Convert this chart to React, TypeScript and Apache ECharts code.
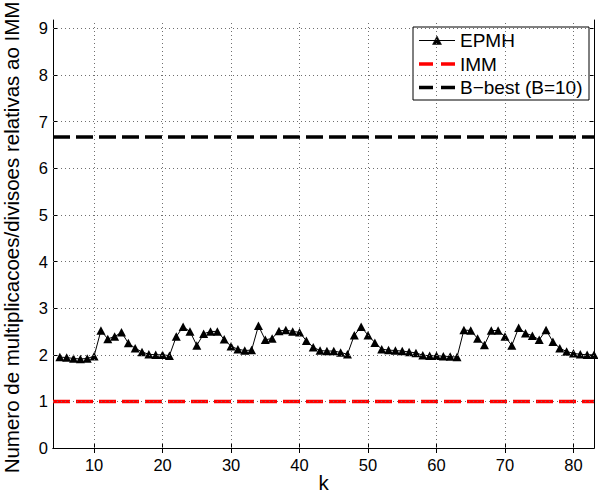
import React, { useEffect, useRef } from 'react';
import * as echarts from 'echarts';

// EPMH cost per step k, starting at k = 5
const kStart = 5;
const epmh = [
  1.95, 1.94, 1.92, 1.91, 1.92, 1.97, 2.52, 2.34, 2.39, 2.48,
  2.25, 2.14, 2.06, 2.01, 2.0, 2.0, 1.98, 2.39, 2.6, 2.5,
  2.2, 2.45, 2.5, 2.5, 2.33, 2.18, 2.12, 2.09, 2.1, 2.62,
  2.32, 2.35, 2.51, 2.53, 2.5, 2.48, 2.3, 2.16, 2.09, 2.08,
  2.08, 2.05, 2.01, 2.42, 2.6, 2.42, 2.26, 2.12, 2.1, 2.09,
  2.08, 2.06, 2.04, 1.99, 1.98, 1.98, 1.97, 1.96, 1.95, 2.53,
  2.52, 2.35, 2.21, 2.52, 2.52, 2.39, 2.2, 2.58, 2.46, 2.41,
  2.32, 2.53, 2.28, 2.14, 2.07, 2.03, 2.01, 2.0, 2.0,
];
const immLevel = 1;
const bBestLevel = 6.67;

const xRange = [4, 83];
const yRange = [0, 9.18];
const xTicks = [10, 20, 30, 40, 50, 60, 70, 80];
const yTicks = [0, 1, 2, 3, 4, 5, 6, 7, 8, 9];

const seriesNames = ['EPMH', 'IMM', 'B\u2212best (B=10)'];
const seriesColors = ['#000000', '#ff0000', '#000000'];

const FONT = '"Liberation Sans", Arial, Helvetica, sans-serif';
const TICK_FONT = 16.5;
const LABEL_FONT = 20.5;
const LEGEND_FONT = 19;

// Boxed legend in the upper-right corner of the axes
function buildLegend() {
  const box = { x: 413, y: 27, w: 176, h: 73 };
  const rowY = [40.5, 64, 87.5];
  const lineX0 = 419;
  const lineX1 = 455;
  const textX = 460;
  const items: any[] = [
    {
      type: 'rect',
      shape: { x: box.x, y: box.y, width: box.w, height: box.h },
      style: { fill: '#fff', stroke: '#000', lineWidth: 1 },
    },
  ];
  seriesNames.forEach((name, i) => {
    const y = rowY[i];
    if (i === 0) {
      items.push({
        type: 'line',
        shape: { x1: lineX0, y1: y, x2: lineX1, y2: y },
        style: { stroke: seriesColors[i], lineWidth: 1 },
      });
      const cx = (lineX0 + lineX1) / 2;
      items.push({
        type: 'polygon',
        shape: { points: [[cx, y - 4.5], [cx + 4.5, y + 4], [cx - 4.5, y + 4]] },
        style: { fill: '#000', stroke: '#000', lineWidth: 0.5 },
      });
    } else {
      items.push({
        type: 'line',
        shape: { x1: lineX0, y1: y, x2: lineX1, y2: y },
        style: { stroke: seriesColors[i], lineWidth: 3.5, lineDash: [14, 8] },
      });
    }
    items.push({
      type: 'text',
      x: textX,
      y,
      style: {
        text: name,
        fontFamily: FONT,
        fontSize: LEGEND_FONT,
        fill: '#000',
        verticalAlign: 'middle',
        align: 'left',
      },
    });
  });
  return { type: 'group', z: 100, children: items };
}

export default function App() {
  const ref = useRef<HTMLDivElement>(null);

  useEffect(() => {
    document.body.style.margin = '0';
    if (!ref.current) return;
    const chart = echarts.init(ref.current, null, { renderer: 'svg' });

    const epmhData = epmh.map((v, i) => [kStart + i, v]);
    const gridLine = { color: '#6f6f6f', width: 1, type: [1, 3] as number[] };

    const tick = (values: number[]) => ({
      show: true,
      inside: true,
      length: 5,
      customValues: values,
      lineStyle: { color: '#000', width: 1 },
    });
    const axisLine = { show: true, lineStyle: { color: '#000', width: 1 } };

    const option: any = {
      animation: false,
      backgroundColor: '#fff',
      textStyle: { fontFamily: FONT },
      grid: {
        left: 53,
        top: 20,
        right: 4,
        bottom: 44,
        containLabel: false,
        outerBoundsMode: 'none',
      },
      xAxis: [
        {
          type: 'value',
          min: xRange[0],
          max: xRange[1],
          axisLine,
          splitLine: { show: false },
          name: 'k',
          nameLocation: 'middle',
          nameGap: 26,
          nameMoveOverlap: false,
          nameTextStyle: { fontFamily: FONT, fontSize: LABEL_FONT, lineHeight: 16, color: '#000' },
          axisTick: tick(xTicks),
          axisLabel: { show: true, customValues: xTicks, margin: 8, fontFamily: FONT, fontSize: TICK_FONT, color: '#000' },
        },
        {
          type: 'value',
          position: 'top',
          min: xRange[0],
          max: xRange[1],
          axisLine,
          splitLine: { show: false },
          axisTick: tick(xTicks),
          axisLabel: { show: false },
        },
      ],
      yAxis: [
        {
          type: 'value',
          min: yRange[0],
          max: yRange[1],
          axisLine,
          splitLine: { show: false },
          name: 'Numero de multiplicacoes/divisoes relativas ao IMM',
          nameLocation: 'middle',
          nameGap: 31,
          nameMoveOverlap: false,
          nameTextStyle: {
            fontFamily: FONT,
            fontSize: LABEL_FONT,
            color: '#000',
            padding: [0, 7, 0, 0],
          },
          axisTick: tick(yTicks),
          axisLabel: { show: true, customValues: yTicks, margin: 5, fontFamily: FONT, fontSize: TICK_FONT, color: '#000' },
        },
        {
          type: 'value',
          position: 'right',
          min: yRange[0],
          max: yRange[1],
          axisLine,
          splitLine: { show: false },
          axisTick: tick(yTicks),
          axisLabel: { show: false },
        },
      ],
      graphic: [buildLegend()],
      series: [
        {
          // dotted grid drawn at the tick positions
          type: 'line',
          data: [[xRange[0], yRange[0]]],
          symbol: 'none',
          silent: true,
          z: 1,
          lineStyle: { opacity: 0 },
          markLine: {
            silent: true,
            animation: false,
            symbol: ['none', 'none'],
            label: { show: false },
            lineStyle: gridLine,
            emphasis: { disabled: true },
            data: [
              ...xTicks.map((x) => ({ xAxis: x })),
              ...yTicks.filter((y) => y > yRange[0]).map((y) => ({ yAxis: y })),
            ],
          },
        },
        {
          name: seriesNames[0],
          type: 'line',
          data: epmhData,
          z: 3,
          color: seriesColors[0],
          lineStyle: { color: seriesColors[0], width: 1 },
          symbol: 'triangle',
          symbolSize: [9, 8.5],
          itemStyle: { color: seriesColors[0] },
        },
        {
          name: seriesNames[1],
          type: 'line',
          data: [[xRange[0], immLevel], [xRange[1], immLevel]],
          z: 4,
          color: seriesColors[1],
          symbol: 'none',
          lineStyle: { color: seriesColors[1], width: 3.5, type: [17, 6] },
        },
        {
          name: seriesNames[2],
          type: 'line',
          data: [[xRange[0], bBestLevel], [xRange[1], bBestLevel]],
          z: 4,
          color: seriesColors[2],
          symbol: 'none',
          lineStyle: { color: seriesColors[2], width: 3.5, type: [17, 6] },
        },
      ],
    };

    chart.setOption(option);
    return () => chart.dispose();
  }, []);

  return <div ref={ref} style={{ width: 598, height: 492 }} />;
}
